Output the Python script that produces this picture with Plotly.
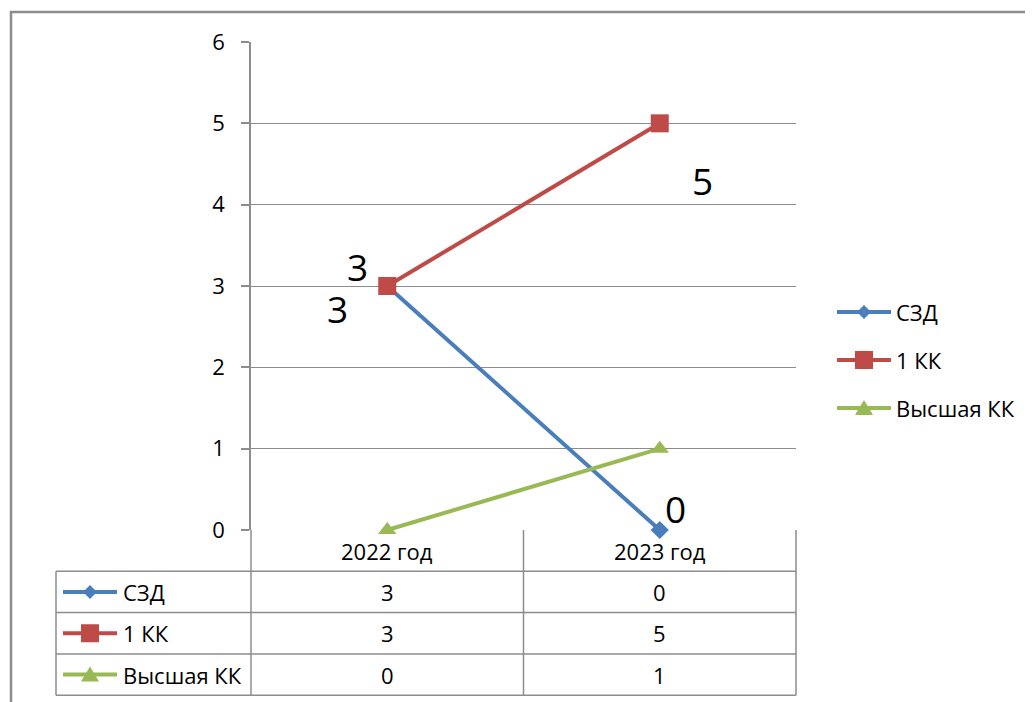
import plotly.graph_objects as go

categories = ["2022 год", "2023 год"]
series_names = ["СЗД", "1 КК", "Высшая КК"]
szd = [3, 0]
kk1 = [3, 5]
vkk = [0, 1]
series_values = [szd, kk1, vkk]
y_ticks = [0, 1, 2, 3, 4, 5, 6]

colors = ["#4A7EBB", "#BE4B48", "#98B954"]
symbols = ["diamond", "square", "triangle-up"]
msizes = [14, 18, 16]
FONT = "Open Sans"
GRID = "#8C8C8C"
FS = 22

fig = go.Figure()
xs = [0, 1]
for name, vals, c, s, ms in zip(series_names, series_values, colors, symbols, msizes):
    fig.add_trace(go.Scatter(
        x=xs, y=vals, name=name, mode="lines+markers",
        line=dict(color=c, width=4),
        marker=dict(symbol=s, size=ms, color=c, line=dict(width=0)),
        cliponaxis=False, showlegend=False))

annotations = []
# data labels (СЗД and 1 КК)
label_offsets = {
    0: [(-50, -22), (16, 22)],
    1: [(-30, 20), (43, -57)],
}
for si, offs in label_offsets.items():
    for ci, (dx, dy) in enumerate(offs):
        annotations.append(dict(x=xs[ci], y=series_values[si][ci], xref="x", yref="y",
                                text=str(series_values[si][ci]), showarrow=False,
                                xshift=dx, yshift=dy,
                                font=dict(family=FONT, size=37, color="black")))

shapes = []
ROW_H = 41.3
rows_y = [-ROW_H * k for k in range(0, 5)]

def hline(y, x0px, x1px, xanchor=0):
    shapes.append(dict(type="line", xref="paper", yref="paper", xsizemode="pixel", ysizemode="pixel",
                       xanchor=xanchor, yanchor=0, x0=x0px, x1=x1px, y0=y, y1=y,
                       line=dict(color=GRID, width=1.5)))

def vline(xref, xanchor, y0, y1, xpx=0):
    shapes.append(dict(type="line", xref=xref, yref="paper", xsizemode="pixel", ysizemode="pixel",
                       xanchor=xanchor, yanchor=0, x0=xpx, x1=xpx, y0=y0, y1=y1,
                       line=dict(color=GRID, width=1.5)))

LEFT = -195
PLOT_W = 545
for y in rows_y[1:]:
    hline(y, LEFT, PLOT_W)
vline("paper", 0, rows_y[1], rows_y[4], xpx=LEFT)
vline("paper", 0, 0, rows_y[4])
vline("x", 0.5, 0, rows_y[4])
vline("paper", 1, 0, rows_y[4])

for ci, cat in enumerate(categories):
    annotations.append(dict(x=xs[ci], y=0, xref="x", yref="paper", text=cat, showarrow=False,
                            yshift=-ROW_H / 2, yanchor="middle",
                            font=dict(family=FONT, size=FS, color="black")))
for si, vals in enumerate(series_values):
    yc = -ROW_H * (si + 1.5)
    for ci, v in enumerate(vals):
        annotations.append(dict(x=xs[ci], y=0, xref="x", yref="paper", text=str(v), showarrow=False,
                                yshift=yc, yanchor="middle",
                                font=dict(family=FONT, size=FS, color="black")))

def marker_path(sym, cx, cy):
    if sym == "diamond":
        r = 7
        return f"M {cx} {cy + r} L {cx + r} {cy} L {cx} {cy - r} L {cx - r} {cy} Z"
    if sym == "square":
        r = 9
        return f"M {cx - r} {cy - r} L {cx + r} {cy - r} L {cx + r} {cy + r} L {cx - r} {cy + r} Z"
    r = 9
    return f"M {cx - r} {cy - 7} L {cx + r} {cy - 7} L {cx} {cy + 8} Z"

def key(xanchor, x0, x1, cy, si):
    c = colors[si]
    shapes.append(dict(type="line", xref="paper", yref="paper", xsizemode="pixel", ysizemode="pixel",
                       xanchor=xanchor, yanchor=0, x0=x0, x1=x1, y0=cy, y1=cy,
                       line=dict(color=c, width=4)))
    cx = (x0 + x1) / 2
    shapes.append(dict(type="path", xref="paper", yref="paper", xsizemode="pixel", ysizemode="pixel",
                       xanchor=xanchor, yanchor=0, path=marker_path(symbols[si], cx, cy),
                       fillcolor=c, line=dict(color=c, width=0)))

for si, name in enumerate(series_names):
    yc = -ROW_H * (si + 1.5)
    key(0, -188, -134, yc, si)
    annotations.append(dict(x=0, y=0, xref="paper", yref="paper", text=name, showarrow=False,
                            xshift=-130, xanchor="left", yshift=yc, yanchor="middle",
                            font=dict(family=FONT, size=FS, color="black")))

legend_y = [218, 170, 122]
for si, name in enumerate(series_names):
    key(1, 41, 95, legend_y[si], si)
    annotations.append(dict(x=1, y=0, xref="paper", yref="paper", text=name, showarrow=False,
                            xshift=98, xanchor="left", yshift=legend_y[si], yanchor="middle",
                            font=dict(family=FONT, size=FS, color="black")))

# outer chart frame
shapes.append(dict(type="rect", xref="paper", yref="paper", xsizemode="pixel", ysizemode="pixel",
                   xanchor=0, yanchor=1, x0=-240, x1=900, y0=30, y1=-900,
                   line=dict(color="#8C8C8C", width=2.5), fillcolor="rgba(0,0,0,0)"))

fig.update_layout(
    width=1025, height=694,
    margin=dict(l=243, r=237, t=34, b=172),
    paper_bgcolor="white", plot_bgcolor="white",
    showlegend=False,
    xaxis=dict(range=[-0.5, 1.5], showticklabels=False, showgrid=False, zeroline=False,
               showline=False, ticks=""),
    yaxis=dict(range=[0, 6], tickvals=y_ticks, showgrid=True, gridcolor=GRID, gridwidth=1.2,
               zeroline=False, showline=True, linecolor=GRID, linewidth=1.5,
               ticks="outside", ticklen=8, tickcolor=GRID, tickwidth=1.5,
               ticklabelstandoff=12,
               tickfont=dict(family=FONT, size=FS, color="black")),
    annotations=annotations,
    shapes=shapes,
)
fig.write_html("out.html")
